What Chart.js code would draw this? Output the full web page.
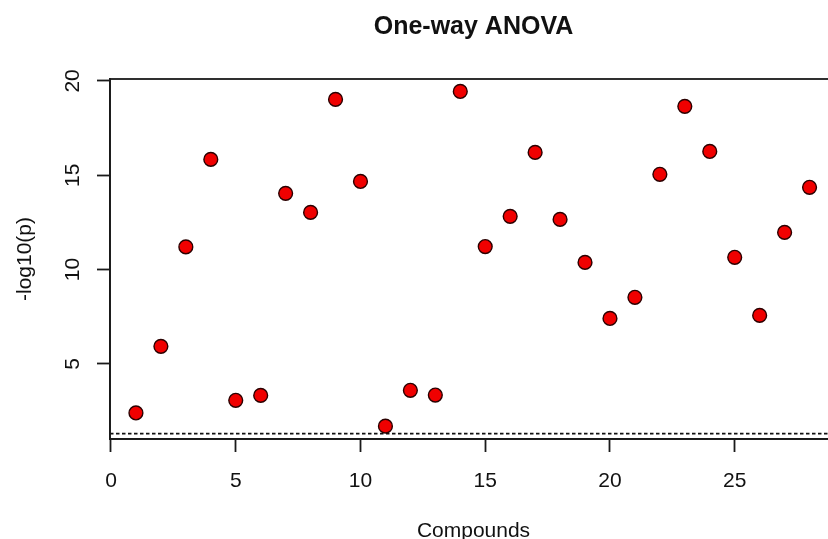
<!DOCTYPE html>
<html>
<head>
<meta charset="utf-8">
<title>One-way ANOVA</title>
<script src="https://cdn.jsdelivr.net/npm/chart.js@4/dist/chart.umd.min.js"></script>
<style>
  html, body { margin: 0; padding: 0; background: #ffffff; overflow: hidden; }
  #viewport { width: 828px; height: 539px; overflow: hidden; position: relative; }
  #wrap { width: 837px; height: 539px; position: absolute; left: 0; top: 0; }
  #chart { display: block; }
</style>
</head>
<body>
<div id="viewport"><div id="wrap"><canvas id="chart" width="837" height="539"></canvas></div></div>
<script>
// Compound index and its ANOVA significance, -log10(p)
const compounds = [1, 2, 3, 4, 5, 6, 7, 8, 9, 10, 11, 12, 13, 14, 15, 16, 17, 18, 19, 20, 21, 22, 23, 24, 25, 26, 27, 28];
const negLogP = [2.40, 5.93, 11.20, 15.84, 3.07, 3.33, 14.04, 13.03, 19.02, 14.67, 1.70, 3.60, 3.35, 19.44, 11.22, 12.82, 16.21, 12.66, 10.38, 7.41, 8.53, 15.05, 18.65, 16.26, 10.65, 7.57, 11.97, 14.36];

// Significance cut-off: p = 0.05
const threshold = -Math.log10(0.05);

// Axis ranges and tick labels
const xRange = [-0.04, 29.1];
const yRange = [1.02, 20.1];
const xTicks = [0, 5, 10, 15, 20, 25];
const yTicks = [5, 10, 15, 20];

const FONT = "'Liberation Sans', Arial, Helvetica, sans-serif";
const INK = '#111111';
const LINE = '#1a1a1a';

// Closed frame around the plotting region (its right side lies past the visible edge)
const framePlugin = {
  id: 'frame',
  afterDatasetsDraw(chart) {
    const { ctx, chartArea: a } = chart;
    ctx.save();
    ctx.strokeStyle = LINE;
    ctx.lineWidth = 1.8;
    ctx.strokeRect(a.left, a.top, a.right - a.left, a.bottom - a.top);
    ctx.restore();
  }
};

const points = compounds.map((c, i) => ({ x: c, y: negLogP[i] }));

new Chart(document.getElementById('chart'), {
  type: 'scatter',
  data: {
    datasets: [
      {
        label: '-log10(p)',
        data: points,
        pointRadius: 6.9,
        pointHoverRadius: 6.9,
        pointBackgroundColor: '#f00000',
        pointBorderColor: '#2a0000',
        pointBorderWidth: 1.4,
        order: 0
      },
      {
        type: 'line',
        label: 'p = 0.05',
        data: [{ x: xRange[0], y: threshold }, { x: xRange[1], y: threshold }],
        borderColor: '#111111',
        borderWidth: 1.7,
        borderDash: [3.5, 2.5],
        pointRadius: 0,
        fill: false,
        order: 1
      }
    ]
  },
  options: {
    responsive: false,
    maintainAspectRatio: false,
    animation: false,
    layout: { padding: 0, autoPadding: false },
    plugins: {
      legend: { display: false },
      tooltip: { enabled: false },
      title: {
        display: true,
        text: 'One-way ANOVA',
        fullSize: false,
        color: INK,
        font: { family: FONT, size: 25, weight: 'bold', lineHeight: 1.2 },
        padding: { top: 12, bottom: 37 }
      }
    },
    scales: {
      x: {
        type: 'linear',
        position: 'bottom',
        min: xRange[0],
        max: xRange[1],
        afterFit(scale) {
          scale.height = 100;
          scale.paddingLeft = 0;
          scale.paddingRight = 0;
        },
        afterBuildTicks(scale) { scale.ticks = xTicks.map(v => ({ value: v })); },
        grid: {
          display: true,
          drawOnChartArea: false,
          drawTicks: true,
          tickLength: 13,
          tickWidth: 1.8,
          tickColor: LINE
        },
        border: { display: true, color: LINE, width: 1.8 },
        ticks: {
          color: INK,
          font: { family: FONT, size: 21 },
          padding: 17,
          maxRotation: 0,
          minRotation: 0
        },
        title: {
          display: true,
          text: 'Compounds',
          color: INK,
          font: { family: FONT, size: 21, lineHeight: 1 },
          padding: { top: 0, bottom: -2.5 }
        }
      },
      y: {
        type: 'linear',
        position: 'left',
        min: yRange[0],
        max: yRange[1],
        afterFit(scale) {
          scale.width = 110;
        },
        afterBuildTicks(scale) { scale.ticks = yTicks.map(v => ({ value: v })); },
        grid: {
          display: true,
          drawOnChartArea: false,
          drawTicks: true,
          tickLength: 13,
          tickWidth: 1.8,
          tickColor: LINE
        },
        border: { display: true, color: LINE, width: 1.8 },
        ticks: {
          color: INK,
          font: { family: FONT, size: 21 },
          padding: 12,
          minRotation: 90,
          maxRotation: 90,
          crossAlign: 'center'
        },
        title: {
          display: true,
          text: '-log10(p)',
          color: INK,
          font: { family: FONT, size: 21, lineHeight: 1.2 },
          padding: { top: 13, bottom: 0 }
        }
      }
    }
  },
  plugins: [framePlugin]
});
</script>
</body>
</html>
